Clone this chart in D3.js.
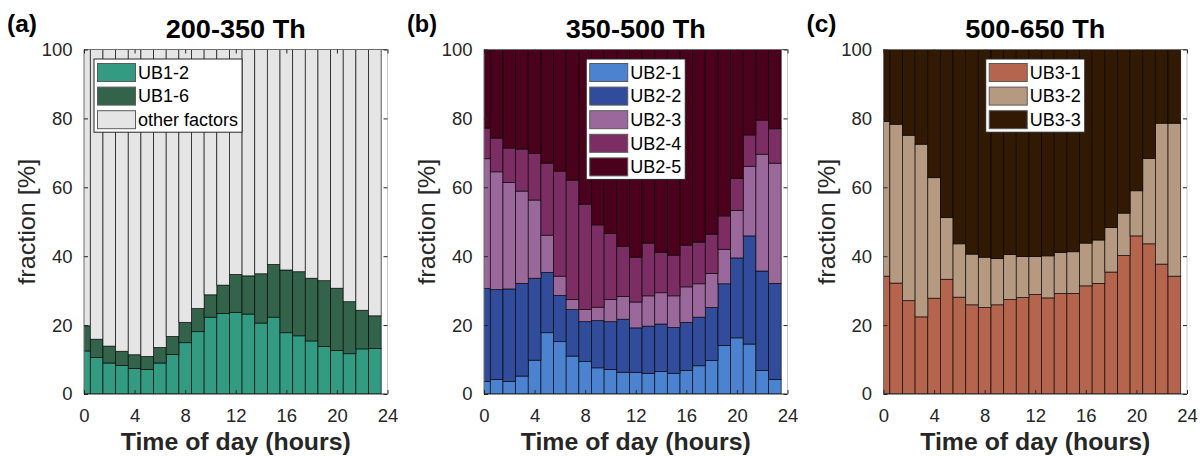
<!DOCTYPE html>
<html>
<head>
<meta charset="utf-8">
<script src="https://cdn.jsdelivr.net/npm/d3@7/dist/d3.min.js"></script>
<style>
  html, body { margin: 0; padding: 0; background: #fff; }
  svg { display: block; font-family: "Liberation Sans", Arial, sans-serif; }
</style>
</head>
<body>
<svg id="fig" width="1200" height="457"></svg>
<script>
// Hour of day for each bar (bars are centred on the hour, 1 h wide)
const hours = [0,1,2,3,4,5,6,7,8,9,10,11,12,13,14,15,16,17,18,19,20,21,22,23];

// Panel (a): 200-350 Th, fractions in %
const ub1_2 = [12.5,10.6,9.0,8.3,7.4,7.1,9.0,11.5,14.9,18.1,22.3,23.4,23.7,23.2,20.6,22.3,17.8,16.9,15.4,13.8,12.6,11.7,13.1,13.2];
const ub1_6 = [7.3,5.3,4.9,4.1,4.0,3.8,4.5,5.2,5.9,6.7,6.5,8.2,11.0,11.1,14.3,15.3,18.2,18.6,18.2,19.1,18.1,15.1,11.2,9.5];
const otherFactors = [80.2,84.1,86.1,87.6,88.6,89.1,86.5,83.3,79.2,75.2,71.2,68.4,65.3,65.7,65.1,62.4,64.0,64.5,66.4,67.1,69.3,73.2,75.7,77.3];

// Panel (b): 350-500 Th
const ub2_1 = [3.6,4.2,3.6,5.2,9.8,17.8,15.2,11.0,9.4,7.6,7.1,6.3,6.3,6.0,6.5,6.0,6.8,8.2,9.7,14.1,16.3,14.5,6.8,4.2];
const ub2_2 = [27.0,26.1,26.9,26.9,23.8,17.5,13.4,13.5,11.6,13.7,13.9,15.4,12.9,13.7,13.8,13.3,14.0,14.1,15.4,17.9,23.2,31.4,28.9,27.9];
const ub2_3 = [37.7,34.2,30.9,26.8,22.7,10.8,5.6,2.9,3.5,3.9,6.4,6.6,7.5,8.8,9.1,9.2,10.3,9.7,9.9,10.0,13.8,20.2,33.9,34.9];
const ub2_4 = [8.9,9.8,10.0,12.2,13.5,20.9,30.5,34.7,30.6,23.9,19.2,14.6,13.0,15.3,11.7,11.8,12.1,12.1,11.4,9.7,9.3,9.1,9.9,10.0];
const ub2_5 = [22.8,25.7,28.6,28.9,30.2,33.0,35.3,37.9,44.9,50.9,53.4,57.1,60.3,56.2,58.9,59.7,56.8,55.9,53.6,48.3,37.4,24.8,20.5,23.0];

// Panel (c): 500-650 Th
const ub3_1 = [34.2,32.2,27.1,22.4,27.8,33.3,28.1,25.9,25.1,25.9,27.4,28.0,28.9,27.9,29.2,29.2,31.4,32.1,35.4,40.2,45.9,43.6,37.7,34.2];
const ub3_2 = [44.9,46.1,48.0,50.1,35.0,17.9,15.5,14.7,14.6,13.4,13.1,11.9,11.0,12.2,11.9,12.1,12.4,12.6,12.9,12.3,13.1,24.8,40.9,44.4];
const ub3_3 = [20.9,21.7,24.9,27.5,37.2,48.8,56.4,59.4,60.3,60.7,59.5,60.1,60.1,59.9,58.9,58.7,56.2,55.3,51.7,47.5,41.0,31.6,21.4,21.4];

// Axis ticks and text
const xTicks = [0,4,8,12,16,20,24];
const yTicks = [0,20,40,60,80,100];
const titles = ["200-350 Th", "350-500 Th", "500-650 Th"];
const panelLabels = ["(a)", "(b)", "(c)"];
const xLabel = "Time of day (hours)";
const yLabel = "fraction [%]";

const panels = [
  { series: [
      { name: "UB1-2", values: ub1_2, color: "#329b81" },
      { name: "UB1-6", values: ub1_6, color: "#33644b" },
      { name: "other factors", values: otherFactors, color: "#e5e5e5" } ],
    legendPos: "northwest" },
  { series: [
      { name: "UB2-1", values: ub2_1, color: "#4c83d1" },
      { name: "UB2-2", values: ub2_2, color: "#304c9b" },
      { name: "UB2-3", values: ub2_3, color: "#9b689c" },
      { name: "UB2-4", values: ub2_4, color: "#7c2d63" },
      { name: "UB2-5", values: ub2_5, color: "#4b001b" } ],
    legendPos: "north" },
  { series: [
      { name: "UB3-1", values: ub3_1, color: "#b5654e" },
      { name: "UB3-2", values: ub3_2, color: "#b59a81" },
      { name: "UB3-3", values: ub3_3, color: "#321904" } ],
    legendPos: "north" }
];

const svg = d3.select("#fig");
const plotTop = 49.5, plotBottom = 394, plotW = 303.5;
const lefts = [84, 484, 883.5];
const axisColor = "#262626";

panels.forEach((p, i) => {
  const left = lefts[i];
  const g = svg.append("g");
  const x = d3.scaleLinear().domain([0, 24]).range([left, left + plotW]);
  const y = d3.scaleLinear().domain([0, 100]).range([plotBottom, plotTop]);
  const cx = left + plotW / 2;

  // stacked bars
  const rows = hours.map((h, k) => {
    const r = { hour: h };
    p.series.forEach(s => { r[s.name] = s.values[k]; });
    return r;
  });
  const keys = p.series.map(s => s.name);
  const stacked = d3.stack().keys(keys)(rows);

  const clipId = "clip" + i;
  svg.append("clipPath").attr("id", clipId)
    .append("rect").attr("x", x(0)).attr("y", y(100))
    .attr("width", x(24) - x(0)).attr("height", y(0) - y(100));

  const bars = g.append("g").attr("clip-path", `url(#${clipId})`);
  stacked.forEach((layer, li) => {
    bars.append("g").selectAll("rect").data(layer).join("rect")
      .attr("x", d => x(d.data.hour - 0.5))
      .attr("width", d => x(d.data.hour + 0.5) - x(d.data.hour - 0.5))
      .attr("y", d => y(d[1]))
      .attr("height", d => y(d[0]) - y(d[1]))
      .attr("fill", p.series[li].color)
      .attr("stroke", "#000")
      .attr("stroke-opacity", 0.8)
      .attr("stroke-width", 0.8);
  });

  // axes box
  g.append("line").attr("x1", x(0)).attr("x2", x(24)).attr("y1", y(0)).attr("y2", y(0))
    .attr("stroke", axisColor).attr("stroke-width", 1);
  g.append("line").attr("x1", x(0)).attr("x2", x(24)).attr("y1", y(100)).attr("y2", y(100))
    .attr("stroke", "#6e6e6e").attr("stroke-width", 1);
  g.append("line").attr("x1", x(0)).attr("x2", x(0)).attr("y1", y(0)).attr("y2", y(100))
    .attr("stroke", "#6e6e6e").attr("stroke-width", 1);
  g.append("line").attr("x1", x(24)).attr("x2", x(24)).attr("y1", y(0)).attr("y2", y(100))
    .attr("stroke", "#c8c8c8").attr("stroke-width", 1);

  const styleAxis = sel => {
    sel.select(".domain").remove();
    sel.selectAll(".tick line").attr("stroke", axisColor);
    sel.selectAll("text").attr("fill", axisColor).attr("font-size", 18.5)
      .attr("font-family", "Liberation Sans, Arial, sans-serif");
  };

  g.append("g").attr("transform", `translate(0,${plotBottom})`)
    .call(d3.axisBottom(x).tickValues(xTicks).tickSize(-4).tickPadding(14.5).tickFormat(d3.format("d")))
    .call(styleAxis);
  g.append("g").attr("transform", `translate(0,${plotTop})`)
    .call(d3.axisTop(x).tickValues(xTicks).tickSize(-4).tickFormat(""))
    .call(styleAxis);
  g.append("g").attr("transform", `translate(${left},0)`)
    .call(d3.axisLeft(y).tickValues(yTicks).tickSize(-4).tickPadding(11.5).tickFormat(d3.format("d")))
    .call(styleAxis);
  g.append("g").attr("transform", `translate(${left + plotW},0)`)
    .call(d3.axisRight(y).tickValues(yTicks).tickSize(-4).tickFormat(""))
    .call(styleAxis);

  // titles and labels
  g.append("text").attr("x", cx).attr("y", 38).attr("text-anchor", "middle")
    .attr("font-size", 25).attr("font-weight", "bold").attr("fill", "#000")
    .attr("textLength", 140).attr("lengthAdjust", "spacingAndGlyphs")
    .text(titles[i]);
  g.append("text").attr("x", left - 77).attr("y", 32)
    .attr("font-size", 24).attr("font-weight", "bold").attr("fill", "#000")
    .attr("textLength", 30).attr("lengthAdjust", "spacingAndGlyphs")
    .text(panelLabels[i]);
  g.append("text").attr("x", cx).attr("y", 450).attr("text-anchor", "middle")
    .attr("font-size", 24.5).attr("font-weight", "bold").attr("fill", axisColor)
    .attr("textLength", 230).attr("lengthAdjust", "spacingAndGlyphs")
    .text(xLabel);
  g.append("text").attr("transform", `translate(${left - 49},${(plotTop + plotBottom) / 2}) rotate(-90)`)
    .attr("text-anchor", "middle").attr("font-size", 24.5).attr("fill", axisColor)
    .attr("textLength", 126).attr("lengthAdjust", "spacingAndGlyphs")
    .text(yLabel);

  // legend
  const lg = g.append("g");
  const box = lg.append("rect").attr("fill", "#fff").attr("stroke", axisColor).attr("stroke-width", 1);
  const items = lg.append("g");
  const step = 23.6, swW = 38, swH = 18;
  let maxW = 0;
  p.series.forEach((s, k) => {
    const cy = 13.5 + k * step;
    items.append("rect").attr("x", 3.5).attr("y", cy - swH / 2).attr("width", swW).attr("height", swH)
      .attr("fill", s.color).attr("stroke", "#5a5a5a").attr("stroke-width", 1);
    const t = items.append("text").attr("x", swW + 6).attr("y", cy).attr("dy", "0.35em")
      .attr("font-size", 18).attr("fill", "#000").text(s.name);
    maxW = Math.max(maxW, t.node().getComputedTextLength());
  });
  const boxW = swW + 6 + maxW + 4;
  const boxH = 13.5 + (p.series.length - 1) * step + 12.5;
  const bx = p.legendPos === "northwest" ? left + 10 : cx - boxW / 2;
  const by = plotTop + 9.5;
  box.attr("width", boxW).attr("height", boxH);
  lg.attr("transform", `translate(${bx},${by})`);
});
</script>
</body>
</html>
